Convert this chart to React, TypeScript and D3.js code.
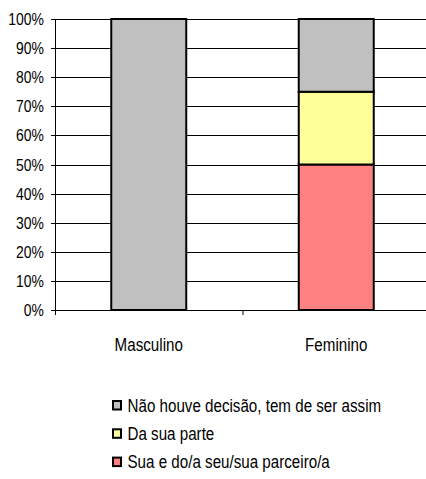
import React from "react";
import * as d3 from "d3";

const categories = ["Masculino", "Feminino"];
const seriesNames = ["Sua e do/a seu/sua parceiro/a", "Da sua parte", "Não houve decisão, tem de ser assim"];
const seriesColors = ["#FF8080", "#FFFF99", "#C0C0C0"];
const sua = [0, 50];
const daSuaParte = [0, 25];
const naoHouve = [100, 25];
const yTicks = [0, 10, 20, 30, 40, 50, 60, 70, 80, 90, 100];

const W = 426, H = 479;
const left = 55, right = 430, top = 19, bottom = 310;
const NARROW = 0.82;

function NText(props: { x: number; y: number; size: number; anchor?: string; children: React.ReactNode }) {
  return (
    <g transform={`translate(${props.x},${props.y}) scale(${NARROW},1)`}>
      <text x={0} y={0} fontSize={props.size} textAnchor={props.anchor || "start"}>{props.children}</text>
    </g>
  );
}

export default function App() {
  const x = d3.scaleBand<string>().domain(categories).range([left, right]).paddingInner(0.6).paddingOuter(0.3);
  const y = d3.scaleLinear().domain([0, 100]).range([bottom, top]);
  const rows = categories.map((c, i) => ({ cat: c, s0: sua[i], s1: daSuaParte[i], s2: naoHouve[i] }));
  const stack = d3.stack<any>().keys(["s0", "s1", "s2"])(rows);
  const font = "'Liberation Sans', Arial, sans-serif";
  const legendOrder = [2, 1, 0];
  return (
    <svg width={W} height={H} style={{ position: "absolute", left: 0, top: 0 }} fontFamily={font}>
      <rect width={W} height={H} fill="#fff" />
      {yTicks.map((t) => (
        <g key={t}>
          <line x1={left - 4} x2={right} y1={Math.round(y(t)) + 0.5} y2={Math.round(y(t)) + 0.5} stroke="#000" strokeWidth={1} />
          <NText x={44} y={y(t) + 6} size={17} anchor="end">{t}%</NText>
        </g>
      ))}
      <line x1={left + 0.5} x2={left + 0.5} y1={top} y2={bottom + 5} stroke="#000" />
      <line x1={243} x2={243} y1={bottom} y2={bottom + 5} stroke="#000" />
      {stack.map((layer, si) =>
        layer.map((d, ci) =>
          d[1] - d[0] > 0 ? (
            <rect key={si + "-" + ci} x={x(categories[ci])!} width={x.bandwidth()} y={y(d[1])} height={y(d[0]) - y(d[1])}
              fill={seriesColors[si]} stroke="#000" strokeWidth={2} />
          ) : null
        )
      )}
      {categories.map((c) => (
        <NText key={c} x={x(c)! + x.bandwidth() / 2} y={351} size={18.5} anchor="middle">{c}</NText>
      ))}
      {legendOrder.map((si, i) => {
        const by = 411.5 + i * 28.3;
        return (
          <g key={si}>
            <rect x={113} y={by - 10.5} width={8} height={8.5} fill={seriesColors[si]} stroke="#000" strokeWidth={2} />
            <NText x={127.5} y={by} size={18.5}>{seriesNames[si]}</NText>
          </g>
        );
      })}
    </svg>
  );
}
